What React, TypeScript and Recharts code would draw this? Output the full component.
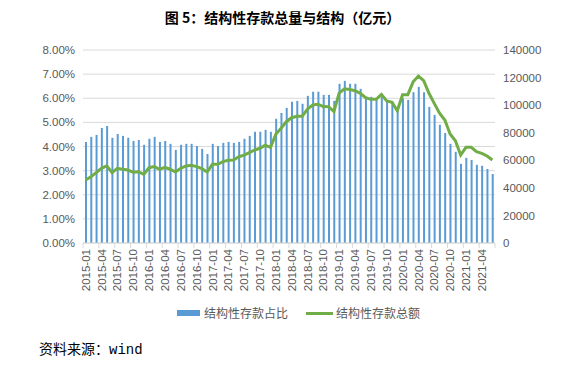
import { ComposedChart, Bar, Line, XAxis, YAxis, CartesianGrid } from 'recharts';

const years = [2015, 2016, 2017, 2018, 2019, 2020, 2021];

const months: string[] = [];
years.forEach((y) => {
  for (let m = 1; m <= 12; m++) {
    if (y === 2021 && m > 6) break;
    months.push(`${y}-${String(m).padStart(2, '0')}`);
  }
});

// 结构性存款占比 (%)
const shareValues = [
  4.19, 4.4, 4.48, 4.77, 4.85, 4.36, 4.52, 4.44, 4.36, 4.23, 4.27, 4.07,
  4.32, 4.4, 4.19, 4.23, 4.11, 3.86, 4.07, 4.11, 4.11, 4.02, 3.9, 3.69,
  4.11, 4.02, 4.15, 4.19, 4.15, 4.19, 4.32, 4.44, 4.61, 4.61, 4.69, 4.61,
  5.15, 5.39, 5.6, 5.85, 5.89, 5.77, 6.1, 6.27, 6.27, 6.14, 6.14, 5.89,
  6.6, 6.72, 6.6, 6.6, 6.39, 6.06, 6.06, 5.93, 6.07, 5.86, 5.86, 5.52,
  6.0, 5.93, 6.25, 6.47, 6.25, 5.64, 5.31, 4.9, 4.56, 4.11, 3.78, 3.28,
  3.53, 3.44, 3.24, 3.2, 3.07, 2.86,
];

// 结构性存款总额 (亿元)
const totalValues = [
  45700, 48100, 51000, 54200, 55900, 51000, 54200, 53500, 52900, 51300, 51700, 49800,
  54600, 55400, 53500, 54900, 53500, 51500, 54200, 55900, 56400, 55400, 53900, 51500,
  57100, 57100, 59000, 60000, 60200, 62600, 63700, 65600, 67500, 68700, 70900, 69400,
  78800, 83200, 88000, 90900, 91900, 91900, 97200, 100100, 100600, 99000, 98900, 95400,
  108800, 111800, 111300, 110500, 108600, 105500, 104200, 104200, 107800, 103100, 102100, 96000,
  107600, 107600, 116900, 121100, 117700, 108600, 101300, 94100, 89200, 79100, 74200, 63800,
  69400, 69400, 66200, 65000, 63100, 60200,
];

const leftTicks = [0, 1, 2, 3, 4, 5, 6, 7, 8];
const rightTicks = [0, 20000, 40000, 60000, 80000, 100000, 120000, 140000];

const data = months.map((month, i) => ({
  month,
  share: shareValues[i],
  total: totalValues[i],
}));

const axisColor = '#d9d9d9';
const textColor = '#595959';
const font = '"Liberation Sans", Arial, sans-serif';
const cjk = '"Noto Sans CJK SC", sans-serif';
const plotWidth = 565 - 83 - 70;

const MonthTick = (props: any) => {
  const { x, y, payload } = props;
  const bw = plotWidth / months.length;
  const idx = months.indexOf(payload.value);
  const isLast = idx + 3 >= months.length;
  return (
    <g>
      <line x1={x - bw / 2} x2={x - bw / 2} y1={y} y2={y + 5} stroke={axisColor} />
      {isLast && (
        <line x1={x + bw * 2.5} x2={x + bw * 2.5} y1={y} y2={y + 5} stroke={axisColor} />
      )}
      <text
        x={x}
        y={y + 6}
        dy="0.36em"
        transform={`rotate(-90, ${x}, ${y + 6})`}
        textAnchor="end"
        fill={textColor}
        fontSize={11.5}
        fontFamily={font}
      >
        {payload.value}
      </text>
    </g>
  );
};

export default function App() {
  return (
    <div style={{ position: 'absolute', left: 0, top: 0, width: 565, height: 373, background: '#fff' }}>
      <div
        style={{
          position: 'absolute',
          top: 8,
          left: 0,
          width: 565,
          textAlign: 'center',
          fontFamily: cjk,
          fontWeight: 'bold',
          fontSize: 14,
          lineHeight: '18px',
          color: '#000',
        }}
      >
        图 5：结构性存款总量与结构（亿元）
      </div>
      <div style={{ position: 'absolute', top: 0, left: 0 }}>
        <ComposedChart width={565} height={300} data={data} margin={{ top: 50, right: 0, bottom: 0, left: 0 }}>
          <CartesianGrid yAxisId="left" vertical={false} stroke={axisColor} />
          <XAxis
            dataKey="month"
            interval={2}
            height={57}
            tickLine={false}
            tickSize={0}
            tickMargin={0}
            axisLine={{ stroke: axisColor }}
            tick={<MonthTick />}
          />
          <YAxis
            yAxisId="left"
            orientation="left"
            width={83}
            domain={[0, 8]}
            ticks={leftTicks}
            tickFormatter={(v: number) => v.toFixed(2) + '%'}
            axisLine={false}
            tickLine={false}
            tickSize={0}
            tickMargin={8}
            tick={{ fill: textColor, fontSize: 11.5, fontFamily: font }}
          />
          <YAxis
            yAxisId="right"
            orientation="right"
            width={70}
            domain={[0, 140000]}
            ticks={rightTicks}
            axisLine={false}
            tickLine={false}
            tickSize={0}
            tickMargin={8}
            tick={{ fill: textColor, fontSize: 11.5, fontFamily: font, textAnchor: 'start' }}
          />
          <Bar yAxisId="left" dataKey="share" name="结构性存款占比" fill="#5b9bd5" barSize={2} isAnimationActive={false} />
          <Line
            yAxisId="right"
            dataKey="total"
            name="结构性存款总额"
            stroke="#70ad47"
            strokeWidth={3}
            dot={false}
            type="linear"
            isAnimationActive={false}
          />
        </ComposedChart>
      </div>
      <div style={{ position: 'absolute', left: 177, top: 310, width: 23, height: 6, background: '#5b9bd5' }} />
      <div
        style={{
          position: 'absolute',
          left: 204,
          top: 305,
          fontFamily: cjk,
          fontSize: 12,
          lineHeight: '16px',
          color: textColor,
        }}
      >
        结构性存款占比
      </div>
      <div style={{ position: 'absolute', left: 306, top: 312, width: 27, height: 3, background: '#70ad47' }} />
      <div
        style={{
          position: 'absolute',
          left: 336,
          top: 305,
          fontFamily: cjk,
          fontSize: 12,
          lineHeight: '16px',
          color: textColor,
        }}
      >
        结构性存款总额
      </div>
      <div
        style={{
          position: 'absolute',
          left: 39,
          top: 341,
          fontFamily: `"Liberation Mono", ${cjk}`,
          fontSize: 14,
          lineHeight: '18px',
          color: '#000',
        }}
      >
        资料来源：wind
      </div>
    </div>
  );
}
